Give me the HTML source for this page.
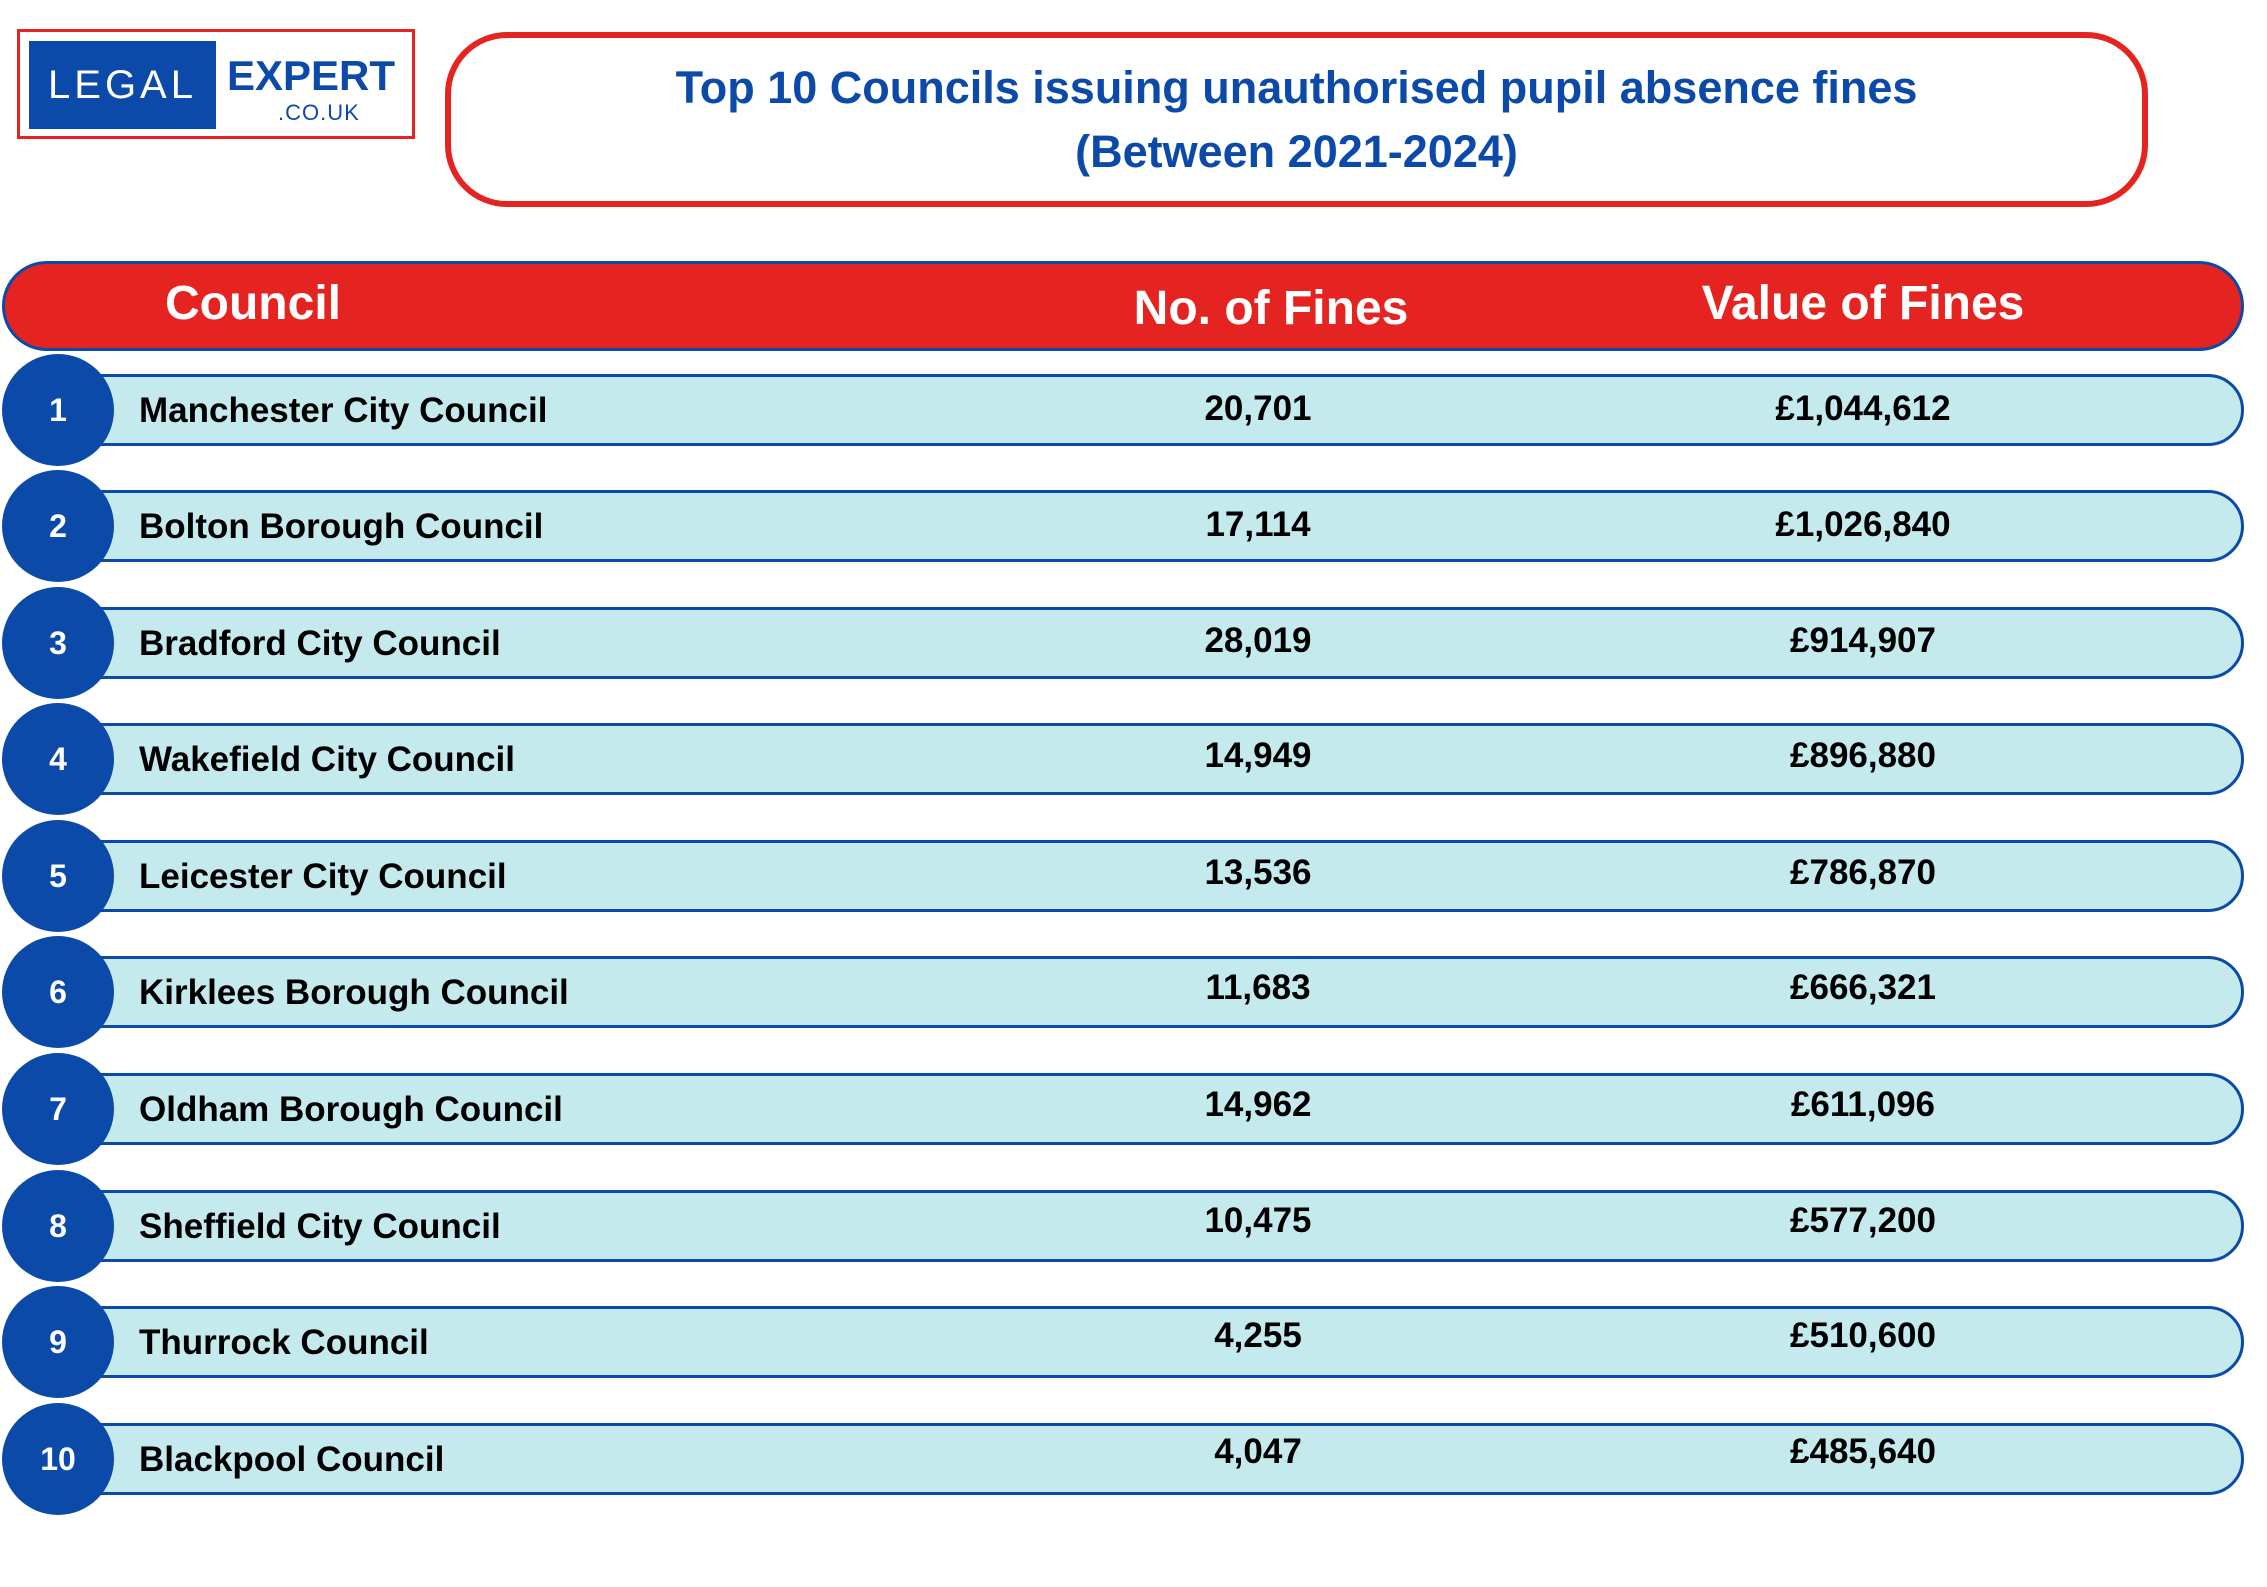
<!DOCTYPE html>
<html><head><meta charset="utf-8"><style>
body{margin:0;width:2267px;height:1587px;background:#fff;position:relative;overflow:hidden;font-family:"Liberation Sans",sans-serif;}
.abs{position:absolute;}
.logo{left:17px;top:29px;width:392px;height:104px;border:3px solid #e52421;background:#fff;}
.logoblue{left:9px;top:9px;width:187px;height:88px;background:#0b4aa8;color:#fff;font-size:40px;line-height:88px;text-align:center;letter-spacing:4px;}
.exp{left:207px;top:20px;font-size:42px;font-weight:bold;color:#0b4aa8;}
.co{left:258px;top:68px;font-size:22px;color:#0b4aa8;letter-spacing:1px;}
.title{left:445px;top:32px;width:1691px;height:163px;border:6px solid #e52421;border-radius:62px;color:#0b4aa8;font-weight:bold;font-size:45px;text-align:center;line-height:64px;display:flex;flex-direction:column;justify-content:center;}
.head{left:2px;top:261px;width:2236px;height:84px;background:#e52421;border:3px solid #0b4aa8;border-radius:46px;}
.ht{color:#fff;font-weight:bold;font-size:48px;top:276px;transform:translateX(-50%);white-space:nowrap;}
.row{left:60px;width:2178px;height:66px;background:#c4eaee;border:3px solid #0b4aa8;border-radius:36px;}
.circ{left:2px;width:112px;height:112px;border-radius:50%;background:#0b4aa8;color:#fff;font-weight:bold;font-size:32px;text-align:center;line-height:112px;}
.t{font-weight:bold;font-size:35px;color:#000;white-space:nowrap;}
.c{transform:translateX(-50%);}
</style></head><body>
<div class="abs logo"><div class="abs logoblue">LEGAL</div><div class="abs exp">EXPERT</div><div class="abs co">.CO.UK</div></div>
<div class="abs title"><div>Top 10 Councils issuing unauthorised pupil absence fines</div><div>(Between 2021-2024)</div></div>
<div class="abs head"></div>
<div class="abs ht" style="left:253px">Council</div>
<div class="abs ht" style="left:1271px;top:281px">No. of Fines</div>
<div class="abs ht" style="left:1863px">Value of Fines</div>

<div class="abs row" style="top:374px"></div><div class="abs circ" style="top:354px">1</div>
<div class="abs t" style="left:139px;top:391px">Manchester City Council</div><div class="abs t c" style="left:1258px;top:389px">20,701</div><div class="abs t c" style="left:1863px;top:389px">£1,044,612</div>

<div class="abs row" style="top:490px"></div><div class="abs circ" style="top:470px">2</div>
<div class="abs t" style="left:139px;top:507px">Bolton Borough Council</div><div class="abs t c" style="left:1258px;top:505px">17,114</div><div class="abs t c" style="left:1863px;top:505px">£1,026,840</div>

<div class="abs row" style="top:607px"></div><div class="abs circ" style="top:587px">3</div>
<div class="abs t" style="left:139px;top:624px">Bradford City Council</div><div class="abs t c" style="left:1258px;top:621px">28,019</div><div class="abs t c" style="left:1863px;top:621px">£914,907</div>

<div class="abs row" style="top:723px"></div><div class="abs circ" style="top:703px">4</div>
<div class="abs t" style="left:139px;top:740px">Wakefield City Council</div><div class="abs t c" style="left:1258px;top:736px">14,949</div><div class="abs t c" style="left:1863px;top:736px">£896,880</div>

<div class="abs row" style="top:840px"></div><div class="abs circ" style="top:820px">5</div>
<div class="abs t" style="left:139px;top:857px">Leicester City Council</div><div class="abs t c" style="left:1258px;top:853px">13,536</div><div class="abs t c" style="left:1863px;top:853px">£786,870</div>

<div class="abs row" style="top:956px"></div><div class="abs circ" style="top:936px">6</div>
<div class="abs t" style="left:139px;top:973px">Kirklees Borough Council</div><div class="abs t c" style="left:1258px;top:968px">11,683</div><div class="abs t c" style="left:1863px;top:968px">£666,321</div>

<div class="abs row" style="top:1073px"></div><div class="abs circ" style="top:1053px">7</div>
<div class="abs t" style="left:139px;top:1090px">Oldham Borough Council</div><div class="abs t c" style="left:1258px;top:1085px">14,962</div><div class="abs t c" style="left:1863px;top:1085px">£611,096</div>

<div class="abs row" style="top:1190px"></div><div class="abs circ" style="top:1170px">8</div>
<div class="abs t" style="left:139px;top:1207px">Sheffield City Council</div><div class="abs t c" style="left:1258px;top:1201px">10,475</div><div class="abs t c" style="left:1863px;top:1201px">£577,200</div>

<div class="abs row" style="top:1306px"></div><div class="abs circ" style="top:1286px">9</div>
<div class="abs t" style="left:139px;top:1323px">Thurrock Council</div><div class="abs t c" style="left:1258px;top:1316px">4,255</div><div class="abs t c" style="left:1863px;top:1316px">£510,600</div>

<div class="abs row" style="top:1423px"></div><div class="abs circ" style="top:1403px">10</div>
<div class="abs t" style="left:139px;top:1440px">Blackpool Council</div><div class="abs t c" style="left:1258px;top:1432px">4,047</div><div class="abs t c" style="left:1863px;top:1432px">£485,640</div>
</body></html>
